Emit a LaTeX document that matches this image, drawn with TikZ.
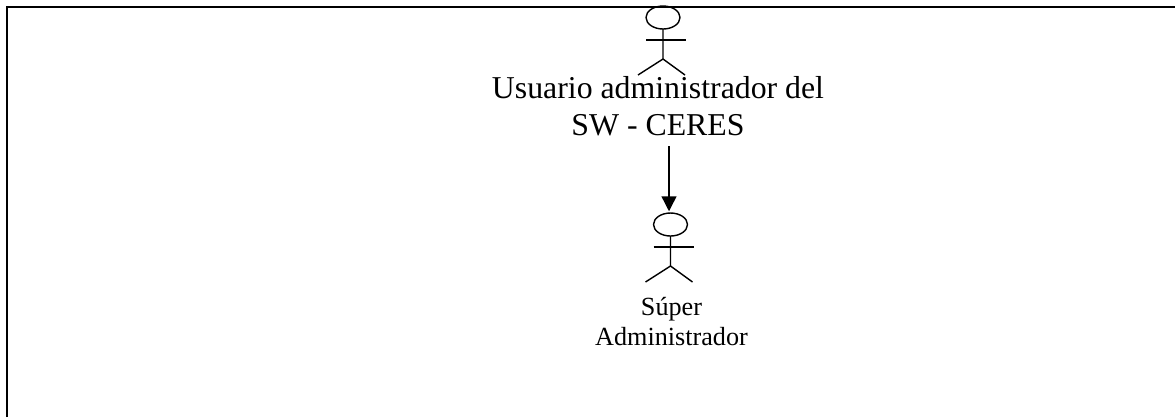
\documentclass[tikz,border=0pt]{standalone}
\usepackage{fontspec}
\setmainfont{Liberation Serif}
\usetikzlibrary{arrows.meta,calc}
\usetikzlibrary{shapes.geometric}
\tikzset{
    frameline/.style={line width=1.1pt},
    actorline/.style={line width=0.8pt},
    actorhead/.style={draw,ellipse,actorline,minimum width=0.68cm,minimum height=0.46cm,inner sep=0pt,outer sep=0pt},
    flowarrow/.style={actorline,-{Triangle[length=8.5pt,width=8.5pt]},shorten >=1pt}
}

\begin{document}
\begin{tikzpicture}[x=0.02cm,y=-0.02cm]

    \useasboundingbox (0,0) rectangle (1175,417);

    \coordinate (FB) at (7,417);
    \coordinate (FC) at (7,7);
    \coordinate (FR) at (1175,7);
    \draw[frameline] (FB)--(FC)--(FR);

    \foreach \n/\x/\y in {admin/663/17.5,super/670.5/224.5} {
    \node[actorhead] (\n head) at (\x,\y) {};
    \draw[actorline] (\n head.south)--++(0,30)coordinate (\n hip)--++(-25,16);
    \draw[actorline] (\n hip)--++(22,16);
    \draw[actorline] ($(\n head.south)+(-17,11)$)--++(40,0);}

    \node[font=\fontsize{18.1pt}{21.3pt}\selectfont,align=center,inner sep=0pt] (adminlabel) at (658,106)
        {Usuario administrador del\\SW - CERES};
    \node[font=\fontsize{14.9pt}{17.36pt}\selectfont,align=center,inner sep=0pt] (superlabel) at (671.5,321.5)
        {Súper\\Administrador};

    \coordinate (arrowtop) at (669,146);
    \draw[flowarrow] (arrowtop)--(arrowtop |- superhead.north);

\end{tikzpicture}
\end{document}
